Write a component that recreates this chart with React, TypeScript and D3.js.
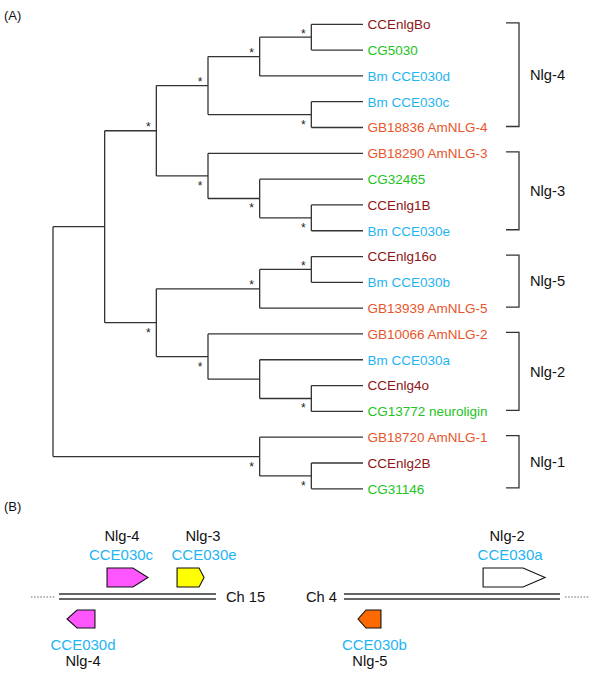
import React from 'react';
import * as d3 from 'd3';

// ---------- Panel A data ----------
const leaves = [
  'CCEnlgBo', 'CG5030', 'Bm CCE030d', 'Bm CCE030c', 'GB18836 AmNLG-4',
  'GB18290 AmNLG-3', 'CG32465', 'CCEnlg1B', 'Bm CCE030e',
  'CCEnlg16o', 'Bm CCE030b', 'GB13939 AmNLG-5',
  'GB10066 AmNLG-2', 'Bm CCE030a', 'CCEnlg4o', 'CG13772 neuroligin',
  'GB18720 AmNLG-1', 'CCEnlg2B', 'CG31146',
];
const leafSpecies = [
  'Tc', 'Dm', 'Bm', 'Bm', 'Am',
  'Am', 'Dm', 'Tc', 'Bm',
  'Tc', 'Bm', 'Am',
  'Am', 'Bm', 'Tc', 'Dm',
  'Am', 'Tc', 'Dm',
];
// Newick topology with leaf indices; internal labels: u = support star above, d = below
const newick =
  '((((((0,1)u,2)u,(3,4)d)u,(5,(6,(7,8)d)d)d)u,(((9,10)u,11)u,(12,(13,(14,15)d))d)d),(16,(17,18)d)d)';

const groupNames = ['Nlg-4', 'Nlg-3', 'Nlg-5', 'Nlg-2', 'Nlg-1'];
const groupFirst = [0, 5, 9, 12, 16];
const groupLast = [4, 8, 11, 15, 18];

const speciesColor: Record<string, string> = {
  Tc: '#8e1515',
  Dm: '#22c322',
  Bm: '#1fb4f2',
  Am: '#e8552a',
};

// ---------- Panel B data ----------
const chromNames = ['Ch 15', 'Ch 4'];
const geneNames = ['CCE030c', 'CCE030e', 'CCE030d', 'CCE030a', 'CCE030b'];
const geneGroups = ['Nlg-4', 'Nlg-3', 'Nlg-4', 'Nlg-2', 'Nlg-5'];
const geneChrom = [0, 0, 0, 1, 1];
const geneStrand = [1, 1, -1, 1, -1];
const geneStart = [0.306, 0.752, 0.051, 0.644, 0.065];
const geneEnd = [0.567, 0.924, 0.229, 0.931, 0.171];
const geneTip = [0.096, 0.032, 0.064, 0.102, 0.037];
const geneLabelAt = [0.395, 0.924, 0.153, 0.769, 0.141];
const groupLabelAt = [0.401, 0.917, 0.153, 0.755, 0.12];
const geneFill = ['#ff55ff', '#ffff00', '#ff55ff', '#ffffff', '#ff6a00'];

const FONT = '"Liberation Sans", Arial, Helvetica, sans-serif';

type NN = { name: string; children?: NN[] };

function parseNewick(s: string): NN {
  let i = 0;
  function node(): NN {
    const n: NN = { name: '' };
    if (s[i] === '(') {
      i++;
      n.children = [node()];
      while (s[i] === ',') {
        i++;
        n.children.push(node());
      }
      i++; // ')'
    }
    let label = '';
    while (i < s.length && s[i] !== ',' && s[i] !== ')' && s[i] !== ';') label += s[i++];
    n.name = label;
    return n;
  }
  return node();
}

export default function App() {
  const root = d3.hierarchy<NN>(parseNewick(newick));
  const maxH = root.height;
  const xScale = d3.scaleLinear().domain([0, maxH]).range([53, 363]);
  const yScale = d3.scaleLinear().domain([0, leaves.length - 1]).range([24.3, 488.8]);

  const pos = new Map<any, { x: number; y: number }>();
  root.eachAfter((n) => {
    const x = xScale(maxH - n.height);
    let y: number;
    if (!n.children) y = yScale(+n.data.name);
    else {
      const f = pos.get(n.children[0])!;
      const l = pos.get(n.children[n.children.length - 1])!;
      y = (f.y + l.y) / 2;
    }
    pos.set(n, { x, y });
  });

  const lines: JSX.Element[] = [];
  const stars: JSX.Element[] = [];
  let k = 0;
  root.each((n) => {
    if (!n.children) return;
    const p = pos.get(n)!;
    const f = pos.get(n.children[0])!;
    const l = pos.get(n.children[n.children.length - 1])!;
    lines.push(<line key={k++} x1={p.x} x2={p.x} y1={f.y} y2={l.y} />);
    n.children.forEach((c) => {
      const cp = pos.get(c)!;
      lines.push(<line key={k++} x1={p.x} x2={cp.x} y1={cp.y} y2={cp.y} />);
    });
    if (n.data.name === 'u' || n.data.name === 'd') {
      const base = n.data.name === 'u' ? p.y + 0.5 : p.y + 14;
      stars.push(
        <text key={k++} x={p.x - 8} y={base} textAnchor="middle" fontSize={12}>
          *
        </text>
      );
    }
  });

  const leafNodes = root.leaves();

  // Panel B scales
  const chromRange: [number, number][] = [
    [59, 216],
    [344, 560],
  ];
  const chromScales = chromRange.map((r) => d3.scaleLinear().domain([0, 1]).range(r));
  const lineY1 = 594;
  const lineY2 = 599;

  const genePath = (g: number) => {
    const s = chromScales[geneChrom[g]];
    const x0 = s(geneStart[g]);
    const x1 = s(geneEnd[g]);
    const tip = s(geneTip[g]) - s(0);
    const up = geneStrand[g] > 0;
    const top = up ? 568 : 610;
    const bot = up ? 587 : 628;
    const mid = (top + bot) / 2;
    const p = d3.path();
    if (up) {
      p.moveTo(x0, top);
      p.lineTo(x1 - tip, top);
      p.lineTo(x1, mid);
      p.lineTo(x1 - tip, bot);
      p.lineTo(x0, bot);
    } else {
      p.moveTo(x1, top);
      p.lineTo(x0 + tip, top);
      p.lineTo(x0, mid);
      p.lineTo(x0 + tip, bot);
      p.lineTo(x1, bot);
    }
    p.closePath();
    return p.toString();
  };

  return (
    <svg
      width={600}
      height={681}
      style={{ position: 'absolute', left: 0, top: 0, background: '#fff' }}
      fontFamily={FONT}
    >
      <rect width={600} height={681} fill="#fff" />
      <text x={4} y={19.5} fontSize={13} fill="#111">
        (A)
      </text>
      <g stroke="#333" strokeWidth={1.3} fill="none">
        {lines}
      </g>
      <g fill="#222">{stars}</g>
      {leafNodes.map((n, i) => {
        const p = pos.get(n)!;
        const idx = +n.data.name;
        return (
          <text
            key={'l' + i}
            x={p.x + 4.5}
            y={p.y + 4.8}
            fontSize={13.5}
            fill={speciesColor[leafSpecies[idx]]}
          >
            {leaves[idx]}
          </text>
        );
      })}
      {groupNames.map((g, i) => {
        const y0 = yScale(groupFirst[i]) - 1.5;
        const y1 = yScale(groupLast[i]) - 1;
        return (
          <g key={'g' + i}>
            <path
              d={`M506,${y0}H519V${y1}H506`}
              stroke="#333"
              strokeWidth={1.3}
              fill="none"
            />
            <text x={530} y={(y0 + y1) / 2 + 5.3} fontSize={14.7} fill="#111">
              {g}
            </text>
          </g>
        );
      })}

      {/* Panel B */}
      <text x={4} y={511} fontSize={13} fill="#111">
        (B)
      </text>
      {chromRange.map((r, c) => (
        <g key={'c' + c} stroke="#333" strokeWidth={1.3}>
          <line x1={r[0]} x2={r[1]} y1={lineY1} y2={lineY1} />
          <line x1={r[0]} x2={r[1]} y1={lineY2} y2={lineY2} />
        </g>
      ))}
      <line
        x1={31}
        x2={55}
        y1={597}
        y2={597}
        stroke="#666"
        strokeWidth={1}
        strokeDasharray="1.5 1.6"
      />
      <line
        x1={565}
        x2={590}
        y1={597}
        y2={597}
        stroke="#666"
        strokeWidth={1}
        strokeDasharray="1.5 1.6"
      />
      <text x={chromRange[0][1] + 10} y={602} fontSize={14.7} fill="#111">
        {chromNames[0]}
      </text>
      <text x={chromRange[1][0] - 7} y={602} fontSize={14.7} fill="#111" textAnchor="end">
        {chromNames[1]}
      </text>
      {geneNames.map((g, i) => {
        const s = chromScales[geneChrom[i]];
        const up = geneStrand[i] > 0;
        return (
          <g key={'gene' + i}>
            <path d={genePath(i)} fill={geneFill[i]} stroke="#111" strokeWidth={1.1} />
            <text
              x={s(geneLabelAt[i])}
              y={up ? 560 : 650}
              fontSize={15}
              fill="#1fb4f2"
              textAnchor="middle"
            >
              {g}
            </text>
            <text
              x={s(groupLabelAt[i])}
              y={up ? 541 : 666}
              fontSize={14.7}
              fill="#111"
              textAnchor="middle"
            >
              {geneGroups[i]}
            </text>
          </g>
        );
      })}
    </svg>
  );
}
